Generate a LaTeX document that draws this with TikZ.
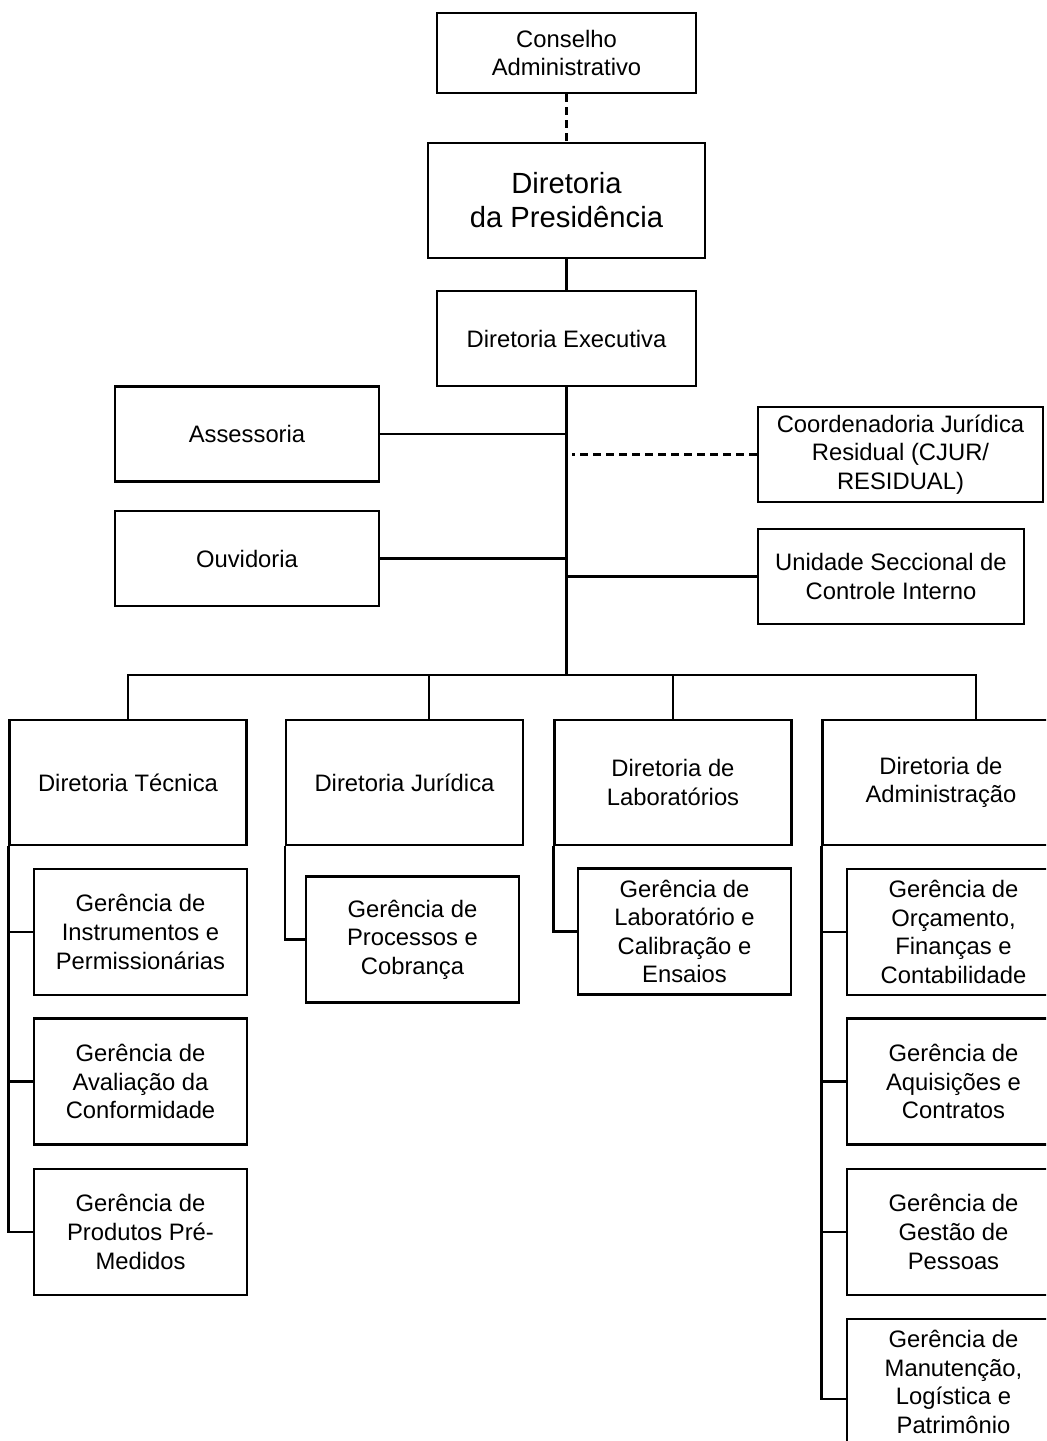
\documentclass[tikz,border=0pt]{standalone}
\usepackage{fontspec}
\setmainfont{Liberation Sans}
\begin{document}
\begin{tikzpicture}[x=0.5pt,y=-0.5pt,
    caixa/.style={draw,line width=1.1pt,align=center,inner sep=0pt,
        font=\fontsize{11.9}{14.3}\selectfont},
    lateral/.style={caixa,minimum height=47.5pt},
    diretoria/.style={caixa,minimum width=118.5pt,minimum height=62.5pt},
    gerencia/.style={caixa,minimum width=106.5pt,minimum height=63pt},
    ligacao/.style={line width=1.1pt},
    tracejada/.style={line width=1.1pt,dash pattern=on 4pt off 2.5pt}]
    \path[use as bounding box,clip] (0,0) rectangle (1046,1441);
    % topo
    \node[caixa,minimum width=129.5pt,minimum height=40pt] (cons) at (566.5,53) {Conselho\\Administrativo};
    \node[caixa,minimum width=138.5pt,minimum height=57.5pt,font=\fontsize{14.6}{17}\selectfont] (pres) at (566.5,200.5) {Diretoria\\da Presidência};
    \node[lateral,minimum width=129.5pt] (exec) at (566.5,338.5) {Diretoria Executiva};
    \node[lateral,minimum width=132pt] (asse) at (247,434) {Assessoria};
    \node[lateral,minimum width=132pt] (ouvi) at (247,558.5) {Ouvidoria};
    \node[lateral,minimum width=142.5pt] (cjur) at (900.5,454.5) {Coordenadoria Jurídica\\Residual (CJUR/\\RESIDUAL)};
    \node[lateral,minimum width=133pt] (usci) at (891,576.5) {Unidade Seccional de\\Controle Interno};
    % diretorias
    \node[diretoria] (dtec) at (128,782.5) {Diretoria Técnica};
    \node[diretoria] (djur) at (404.5,782.5) {Diretoria Jurídica};
    \node[diretoria] (dlab) at (673,782.5) {Diretoria de\\Laboratórios};
    \node[diretoria] (dadm) at (941,782.5) {Diretoria de\\Administração};
    % gerencias
    \node[gerencia] (gip) at (140.5,932) {Gerência de\\Instrumentos e\\Permissionárias};
    \node[gerencia] (gac) at (140.5,1081.5) {Gerência de\\Avaliação da\\Conformidade};
    \node[gerencia] (gpp) at (140.5,1232) {Gerência de\\Produtos Pré-\\Medidos};
    \node[gerencia] (gpc) at (412.5,939.5) {Gerência de\\Processos e\\Cobrança};
    \node[gerencia] (glc) at (684.5,931.5) {Gerência de\\Laboratório e\\Calibração e\\Ensaios};
    \node[gerencia] (gof) at (953.5,932) {Gerência de\\Orçamento,\\Finanças e\\Contabilidade};
    \node[gerencia] (gaq) at (953.5,1081.5) {Gerência de\\Aquisições e\\Contratos};
    \node[gerencia] (ggp) at (953.5,1232) {Gerência de\\Gestão de\\Pessoas};
    \node[gerencia] (gml) at (953.5,1382) {Gerência de\\Manutenção,\\Logística e\\Patrimônio};
    % ligacoes
    \coordinate (bus) at (566.5,675);
    \draw[tracejada] (cons) -- (pres);
    \draw[ligacao] (pres) -- (exec);
    \draw[ligacao] (exec) -- (bus);
    \draw[ligacao] (asse) -- (asse -| bus);
    \draw[ligacao] (ouvi) -- (ouvi -| bus);
    \draw[tracejada] (cjur) -- ([xshift=2.5pt]cjur -| bus);
    \draw[ligacao] (usci) -- (usci -| bus);
    \draw[ligacao] (dtec.north) |- ([xshift=17.3pt]dadm.north |- bus) -- ([xshift=17.3pt]dadm.north);
    \draw[ligacao] ([xshift=12.1pt]djur.north) -- ([xshift=12.1pt]djur.north |- bus);
    \draw[ligacao] (dlab.north) -- (dlab.north |- bus);
    \draw[ligacao] (dtec.south west) |- (gpp.west);
    \draw[ligacao] (gip.west) -- (gip.west -| dtec.south west);
    \draw[ligacao] (gac.west) -- (gac.west -| dtec.south west);
    \draw[ligacao] (djur.south west) |- (gpc.west);
    \draw[ligacao] (dlab.south west) |- (glc.west);
    \draw[ligacao] (dadm.south west) |- ([yshift=-8.5pt]gml.west);
    \draw[ligacao] (gof.west) -- (gof.west -| dadm.south west);
    \draw[ligacao] (gaq.west) -- (gaq.west -| dadm.south west);
    \draw[ligacao] (ggp.west) -- (ggp.west -| dadm.south west);
\end{tikzpicture}
\end{document}
